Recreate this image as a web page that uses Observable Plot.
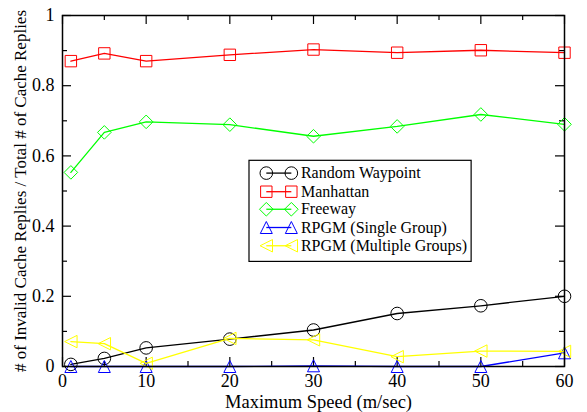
<!DOCTYPE html>
<html><head><meta charset="utf-8">
<script src="https://cdn.jsdelivr.net/npm/d3@7"></script>
<script src="https://cdn.jsdelivr.net/npm/@observablehq/plot@0.6"></script>
<style>html,body{margin:0;padding:0;background:#fff;} svg text{font-family:'Liberation Serif','Times New Roman',serif;}</style>
</head><body><div id="chart"></div>
<script>
// ---- data ----
const speeds = [1, 5, 10, 20, 30, 40, 50, 60];
const randomWaypoint = [0.006, 0.023, 0.053, 0.078, 0.104, 0.151, 0.173, 0.200];
const manhattan      = [0.870, 0.892, 0.870, 0.888, 0.903, 0.894, 0.901, 0.894];
const freeway        = [0.553, 0.667, 0.697, 0.689, 0.656, 0.684, 0.718, 0.690];
const rpgmSingle     = [0.000, 0.000, 0.000, 0.000, 0.002, 0.000, 0.000, 0.039];
const rpgmMultiple   = [0.071, 0.065, 0.009, 0.080, 0.076, 0.028, 0.044, 0.043];
const seriesNames = ["Random Waypoint", "Manhattan", "Freeway", "RPGM (Single Group)", "RPGM (Multiple Groups)"];
const seriesValues = [randomWaypoint, manhattan, freeway, rpgmSingle, rpgmMultiple];
const xTicks = [0, 10, 20, 30, 40, 50, 60];
const xMinorTicks = [5, 15, 25, 35, 45, 55];
const yTicks = [0, 0.2, 0.4, 0.6, 0.8, 1];
const yMinorTicks = [0.1, 0.3, 0.5, 0.7, 0.9];
const xLabel = "Maximum Speed (m/sec)";
const yLabel = "# of Invalid Cache Replies / Total # of Cache Replies";

// ---- styles ----
const seriesColors = ["#000000", "#ff0000", "#00ff00", "#0000ff", "#ffff00"];
const R = s => Math.sqrt(s / Math.PI);
const symCircle = {draw(c, s) { const r = R(s); c.moveTo(r, 0); c.arc(0, 0, r, 0, 2 * Math.PI); }};
const symSquare = {draw(c, s) { const r = R(s); c.rect(-r, -r, 2 * r, 2 * r); }};
const symDiamond = {draw(c, s) { const r = R(s); c.moveTo(0, -r); c.lineTo(r, 0); c.lineTo(0, r); c.lineTo(-r, 0); c.closePath(); }};
const symTriUp = {draw(c, s) { const r = R(s); c.moveTo(0, -r); c.lineTo(r, r); c.lineTo(-r, r); c.closePath(); }};
const symTriLeft = {draw(c, s) { const r = R(s); c.moveTo(-r, 0); c.lineTo(r, -r); c.lineTo(r, r); c.closePath(); }};
const seriesSymbols = [symCircle, symSquare, symDiamond, symTriUp, symTriLeft];
const seriesR = [6.3, 5.7, 6.8, 6, 6.2];

// legend layout (in data units)
const legendBox = [{x1: 22.35, x2: 48.9, y1: 0.298, y2: 0.586}];
const legendRowY = [0.551, 0.498, 0.448, 0.396, 0.344];
const legendSymX = [24.36, 27.35];
const legendTextX = 28.5;

const W = 587, H = 412, mT = 15, mB = 46, mL = 62, mR = 23;
const plotW = W - mL - mR, plotH = H - mT - mB;
const font = "'Liberation Serif', 'Times New Roman', serif";

const marks = [];
// ticks (inward, all four sides)
marks.push(Plot.ruleX(xTicks, {x: d => d, stroke: "black", strokeWidth: 1.2, insetTop: plotH - 9}));
marks.push(Plot.ruleX(xTicks, {x: d => d, stroke: "black", strokeWidth: 1.2, insetBottom: plotH - 9}));
marks.push(Plot.ruleX(xMinorTicks, {x: d => d, stroke: "black", strokeWidth: 1.2, insetTop: plotH - 5}));
marks.push(Plot.ruleX(xMinorTicks, {x: d => d, stroke: "black", strokeWidth: 1.2, insetBottom: plotH - 5}));
marks.push(Plot.ruleY(yTicks, {y: d => d, stroke: "black", strokeWidth: 1.2, insetRight: plotW - 9}));
marks.push(Plot.ruleY(yTicks, {y: d => d, stroke: "black", strokeWidth: 1.2, insetLeft: plotW - 9}));
marks.push(Plot.ruleY(yMinorTicks, {y: d => d, stroke: "black", strokeWidth: 1.2, insetRight: plotW - 5}));
marks.push(Plot.ruleY(yMinorTicks, {y: d => d, stroke: "black", strokeWidth: 1.2, insetLeft: plotW - 5}));

// series
seriesNames.forEach((name, i) => {
  const rows = speeds.map((s, j) => ({speed: s, value: seriesValues[i][j]}));
  marks.push(Plot.line(rows, {x: "speed", y: "value", stroke: seriesColors[i], strokeWidth: 1.3}));
  marks.push(Plot.dot(rows, {x: "speed", y: "value", stroke: seriesColors[i], fill: "none", strokeWidth: 1, r: seriesR[i], symbol: seriesSymbols[i]}));
});

// frame
marks.push(Plot.frame({stroke: "black", strokeWidth: 1.5}));

// legend
marks.push(Plot.rect(legendBox, {x1: "x1", x2: "x2", y1: "y1", y2: "y2", fill: "white", stroke: "black", strokeWidth: 1.2}));
seriesNames.forEach((name, i) => {
  const row = [{name, y: legendRowY[i], xa: legendSymX[0], xb: legendSymX[1]}];
  marks.push(Plot.link(row, {x1: "xa", x2: "xb", y1: "y", y2: "y", stroke: seriesColors[i], strokeWidth: 1.3}));
  marks.push(Plot.dot(row, {x: "xa", y: "y", stroke: seriesColors[i], fill: "none", strokeWidth: 1, r: seriesR[i], symbol: seriesSymbols[i]}));
  marks.push(Plot.dot(row, {x: "xb", y: "y", stroke: seriesColors[i], fill: "none", strokeWidth: 1, r: seriesR[i], symbol: seriesSymbols[i]}));
  marks.push(Plot.text(row, {x: () => legendTextX, y: "y", text: "name", textAnchor: "start", fontSize: 16, fill: "black", fontFamily: font}));
});

// axes
marks.push(Plot.axisX({ticks: xTicks, tickSize: 0, tickPadding: 8, fontSize: 18, label: null, tickFormat: d => String(d), fontFamily: font}));
marks.push(Plot.axisY({ticks: yTicks, tickSize: 0, tickPadding: 8, fontSize: 18, label: null, tickFormat: d => String(d), fontFamily: font}));
marks.push(Plot.text([xLabel], {text: d => d, frameAnchor: "bottom", lineAnchor: "middle", textAnchor: "middle", dy: 36, dx: 5, fontSize: 18.5, fill: "black", fontFamily: font}));
marks.push(Plot.text([yLabel], {text: d => d, frameAnchor: "left", lineAnchor: "middle", textAnchor: "middle", rotate: -90, dx: -42, fontSize: 17, fill: "black", fontFamily: font}));

const chart = Plot.plot({
  width: W, height: H,
  marginTop: mT, marginBottom: mB, marginLeft: mL, marginRight: mR,
  x: {domain: [0, 60]},
  y: {domain: [0, 1]},
  style: "font-family: 'Liberation Serif', 'Times New Roman', serif; color: black; background: white; overflow: visible;",
  marks
});
document.getElementById("chart").appendChild(chart);
</script>
</body></html>
